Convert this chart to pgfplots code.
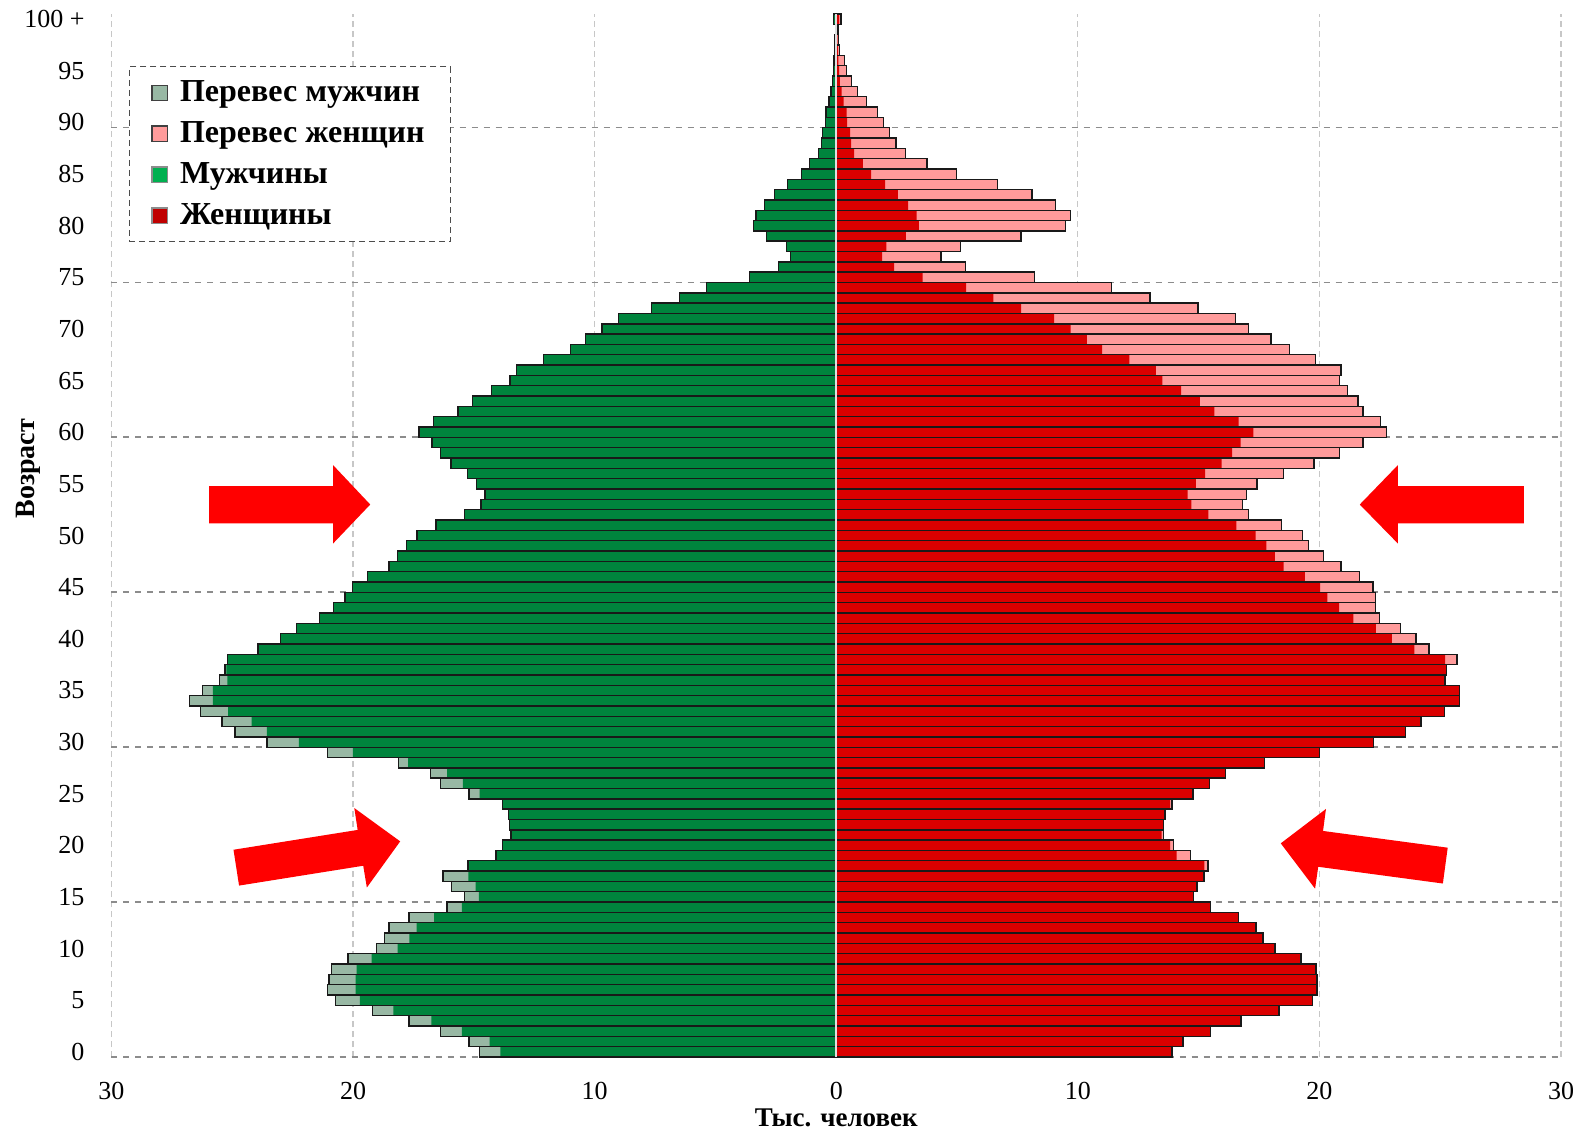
\documentclass[border=0pt]{standalone}
\usepackage{pgfplots}
\pgfplotsset{compat=1.18}
\usepackage{pgfplotstable}
\usepackage{fontspec}
\setmainfont{Liberation Serif}
\usetikzlibrary{calc}
\definecolor{mgreen}{RGB}{0,132,61}
\definecolor{mexc}{RGB}{152,184,164}
\definecolor{wred}{RGB}{218,0,0}
\definecolor{wexc}{RGB}{255,155,155}
\definecolor{lgreen}{RGB}{0,176,80}
\definecolor{lred}{RGB}{192,0,0}

\pgfplotstableread{
age m w
0 14.76 13.90
1 15.20 14.35
2 16.37 15.50
3 17.68 16.76
4 19.20 18.33
5 20.74 19.72
6 21.07 19.90
7 20.99 19.90
8 20.90 19.85
9 20.21 19.23
10 19.03 18.16
11 18.69 17.67
12 18.52 17.37
13 17.68 16.65
14 16.12 15.50
15 15.40 14.79
16 15.93 14.93
17 16.28 15.23
18 15.24 15.39
19 14.09 14.67
20 13.82 13.95
21 13.47 13.54
22 13.53 13.54
23 13.57 13.60
24 13.82 13.89
25 15.20 14.76
26 16.37 15.46
27 16.80 16.11
28 18.13 17.72
29 21.07 20.01
30 23.57 22.24
31 24.89 23.57
32 25.42 24.20
33 26.32 25.17
34 26.78 25.80
35 26.24 25.80
36 25.54 25.20
37 25.30 25.25
38 25.20 25.70
39 23.93 24.53
40 23.00 24.00
41 22.34 23.36
42 21.40 22.48
43 20.82 22.32
44 20.33 22.32
45 20.03 22.22
46 19.40 21.66
47 18.52 20.90
48 18.16 20.18
49 17.80 19.55
50 17.36 19.30
51 16.56 18.44
52 15.40 17.07
53 14.70 16.82
54 14.54 16.98
55 14.89 17.42
56 15.27 18.52
57 15.95 19.77
58 16.39 20.82
59 16.74 21.80
60 17.27 22.77
61 16.66 22.52
62 15.65 21.80
63 15.05 21.60
64 14.27 21.17
65 13.50 20.82
66 13.23 20.90
67 12.13 19.84
68 11.00 18.77
69 10.37 17.99
70 9.70 17.07
71 9.02 16.53
72 7.65 14.97
73 6.50 12.98
74 5.38 11.40
75 3.58 8.20
76 2.40 5.35
77 1.90 4.33
78 2.07 5.15
79 2.88 7.65
80 3.42 9.50
81 3.33 9.70
82 2.97 9.07
83 2.55 8.10
84 2.02 6.67
85 1.44 4.97
86 1.10 3.75
87 0.74 2.87
88 0.62 2.48
89 0.57 2.20
90 0.45 1.95
91 0.43 1.70
92 0.30 1.25
93 0.22 0.88
94 0.15 0.62
95 0.12 0.43
96 0.09 0.33
97 0.07 0.14
98 0.05 0.10
99 0.04 0.08
100 0.12 0.20
}\pyr

\begin{document}
\begin{tikzpicture}
\begin{axis}[
  scale only axis,
  width=724.75pt, height=521.5pt,
  xmin=-30, xmax=30, ymin=-0.5, ymax=100.5,
  axis line style={draw=none},
  major tick length=0pt,
  xtick={-30,-20,-10,0,10,20,30},
  xticklabels={30,20,10,0,10,20,30},
  ytick={0,5,...,100},
  yticklabels={0,5,10,15,20,25,30,35,40,45,50,55,60,65,70,75,80,85,90,95,100 +},
  /pgf/number format/assume math mode=true,
  tick label style={font=\fontsize{13}{15}\selectfont},
  xticklabel style={yshift=-9pt},
  yticklabel style={xshift=-10pt},
  xmajorgrids,
  major grid style={densely dashed, color=black!22, line width=0.6pt},
  extra y ticks={-0.5,14.5,29.5,44.5,59.5,74.5,89.5},
  extra y tick labels={},
  extra y tick style={grid=major, major grid style={dashed, color=black!45, line width=0.9pt}},
  xlabel={Тыс. человек},
  xlabel style={font=\bfseries\fontsize{13.5}{15}\selectfont, at={(axis description cs:0.5,-0.058)}, anchor=center},
  ylabel={Возраст},
  ylabel style={font=\bfseries\fontsize{14}{16}\selectfont, at={(axis description cs:-0.0576,0.564)}, anchor=center},
  xbar, bar width=1, bar shift=0pt,
  legend style={at={(axis description cs:0.012,0.95)}, anchor=north west,
    draw=black!70, densely dashed, fill=white, line width=0.6pt,
    font=\bfseries\fontsize{16}{18}\selectfont, row sep=4.5pt, inner xsep=11pt, inner ysep=5pt},
  legend cell align=left,
  legend image code/.code={\draw[#1,solid,draw=black!75,line width=0.6pt] (0pt,-3.8pt) rectangle (7.6pt,3.8pt); \path (12pt,0pt);},
]
\coordinate (ll) at (rel axis cs:0,0);
\coordinate (ur) at (rel axis cs:1,1);
\addplot[fill=mexc, draw=none] table[x expr=-\thisrow{m}, y=age] {\pyr};
\addlegendentry{Перевес мужчин}
\addplot[fill=wexc, draw=none] table[x=w, y=age] {\pyr};
\addlegendentry{Перевес женщин}
\addplot[fill=mgreen, draw=none,
  legend image code/.code={\draw[solid,fill=lgreen,draw=black!45,line width=0.6pt] (0pt,-3.8pt) rectangle (7.6pt,3.8pt); \path (12pt,0pt);}]
  table[x expr={-min(\thisrow{m},\thisrow{w})}, y=age] {\pyr};
\addlegendentry{Мужчины}
\addplot[fill=wred, draw=none,
  legend image code/.code={\draw[solid,fill=lred,draw=black!45,line width=0.6pt] (0pt,-3.8pt) rectangle (7.6pt,3.8pt); \path (12pt,0pt);}]
  table[x expr={min(\thisrow{m},\thisrow{w})}, y=age] {\pyr};
\addlegendentry{Женщины}
\addplot[fill=none, draw=black!90, line width=0.7pt, forget plot] table[x expr=-\thisrow{m}, y=age] {\pyr};
\addplot[fill=none, draw=black!90, line width=0.7pt, forget plot] table[x=w, y=age] {\pyr};
\draw[white!75!gray, line width=0.8pt] (axis cs:0,-0.5) -- (axis cs:0,100.5);
% arrows
\fill[red] (axis cs:-25.96,54.78) -- (axis cs:-20.83,54.78) -- (axis cs:-20.83,56.82) -- (axis cs:-19.29,53.0)
  -- (axis cs:-20.83,49.22) -- (axis cs:-20.83,51.17) -- (axis cs:-25.96,51.17) -- cycle;
\fill[red] (axis cs:28.46,54.78) -- (axis cs:23.25,54.78) -- (axis cs:23.25,56.82) -- (axis cs:21.67,53.0)
  -- (axis cs:23.25,49.22) -- (axis cs:23.25,51.17) -- (axis cs:28.46,51.17) -- cycle;
\fill[red] (axis cs:-24.95,19.57) -- (axis cs:-19.81,21.49) -- (axis cs:-19.95,23.61) -- (axis cs:-18.05,20.38)
  -- (axis cs:-19.43,15.91) -- (axis cs:-19.58,18.02) -- (axis cs:-24.72,16.10) -- cycle;
\fill[red] (axis cs:25.31,19.77) -- (axis cs:20.15,21.39) -- (axis cs:20.27,23.52) -- (axis cs:18.40,20.19)
  -- (axis cs:19.82,15.80) -- (axis cs:19.95,17.92) -- (axis cs:25.11,16.30) -- cycle;
\end{axis}
\pgfresetboundingbox
\path[use as bounding box] ($(ll)+(-55.75pt,-37pt)$) rectangle ($(ur)+(9pt,7pt)$);
\end{tikzpicture}
\end{document}
